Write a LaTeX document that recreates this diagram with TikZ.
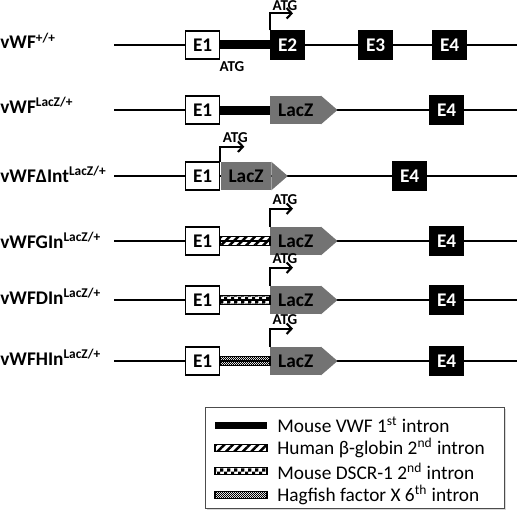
\documentclass[tikz,border=0pt]{standalone}
\usepackage{fontspec}
\setmainfont{Carlito}
\usetikzlibrary{positioning,calc,arrows.meta,patterns,patterns.meta,shadows}

\definecolor{laczgray}{RGB}{115,115,115}

% superscript of the row labels
\newcommand{\allele}[1]{\textsuperscript{\fontsize{7.6}{8}\selectfont #1}}

% checker fills for the intron bars
\pgfdeclarepatternformonly{coarsechecker}{\pgfqpoint{0pt}{0pt}}{\pgfqpoint{4pt}{4pt}}{\pgfqpoint{4pt}{4pt}}{%
  \pgfpathrectangle{\pgfqpoint{0pt}{0pt}}{\pgfqpoint{2pt}{2pt}}%
  \pgfpathrectangle{\pgfqpoint{2pt}{2pt}}{\pgfqpoint{2pt}{2pt}}%
  \pgfusepath{fill}}
\pgfdeclarepatternformonly{finechecker}{\pgfqpoint{0pt}{0pt}}{\pgfqpoint{1.3pt}{1.3pt}}{\pgfqpoint{1.3pt}{1.3pt}}{%
  \pgfpathrectangle{\pgfqpoint{0pt}{0pt}}{\pgfqpoint{0.65pt}{0.65pt}}%
  \pgfpathrectangle{\pgfqpoint{0.65pt}{0.65pt}}{\pgfqpoint{0.65pt}{0.65pt}}%
  \pgfusepath{fill}}

\tikzset{
  gene/.style={line width=1.1pt},
  exonwhite/.style={draw, line width=0.8pt, fill=white, minimum width=19.3pt,
    minimum height=15.9pt, inner sep=0pt, font=\fontsize{11}{12}\selectfont\bfseries},
  exonblack/.style={exonwhite, fill=black, text=white},
  lacz/.style={fill=laczgray, minimum width=28.9pt, minimum height=15.9pt, inner sep=0pt,
    font=\fontsize{11}{12}\selectfont\bfseries},
  atg/.style={inner sep=0pt, font=\fontsize{8.6}{9}\selectfont\bfseries},
  atgarrow/.style={line width=1.2pt, -{Straight Barb[length=2.8pt,width=6pt]}},
  rowlabel/.style={anchor=base west, inner sep=0pt, font=\fontsize{11}{12}\selectfont\bfseries},
  intron/.style={draw, line width=0.6pt},
  hatched/.style={intron, pattern={Lines[angle=45,distance=3.4pt,line width=1.4pt]}},
  legendtext/.style={anchor=west, inner sep=0pt, font=\fontsize{11}{12}\selectfont},
}

\begin{document}
\begin{tikzpicture}[x=0.02cm, y=-0.02cm]
  \useasboundingbox (0,0) rectangle (520,517);

  % gene backbones
  \foreach \y/\n in {45/1,110/2,176/3,241/4,300/5,361/6} {
    \coordinate (s\n) at (114,\y);
    \coordinate (f\n) at (517,\y);
    \draw[gene] (s\n) -- (f\n);
  }

  % row labels
  \node[rowlabel] (lab1) at (0,49) {vWF\allele{+/+}};
  \node[rowlabel] (lab2) at (0,113) {vWF\allele{LacZ/+}};
  \node[rowlabel] (lab3) at (0,182) {vWFΔInt\allele{LacZ/+}};
  \node[rowlabel] (lab4) at (0,248) {vWFGIn\allele{LacZ/+}};
  \node[rowlabel] (lab5) at (0,304) {vWFDIn\allele{LacZ/+}};
  \node[rowlabel] (lab6) at (0,365) {vWFHIn\allele{LacZ/+}};

  % vWF +/+
  \node[exonwhite, anchor=west] (e1a) at (185,45) {E1};
  \node[exonblack, anchor=west] (e2a) at (270,45) {E2};
  \node[exonblack, anchor=west] (e3a) at (358,45) {E3};
  \node[exonblack, anchor=west] (e4a) at (432,45) {E4};
  \fill ($(e1a.east)+(0,-4.5)$) rectangle ($(e2a.west)+(0,4.5)$);
  \coordinate (t1) at ($(e2a.north west)+(23,-17)$);
  \coordinate (k1) at (e2a.north west |- t1);
  \draw[atgarrow] (e2a.north west) |- (t1);
  \node[atg, above right=1.2pt and 1.3pt of k1] (atg1) {ATG};
  \node[atg] (atg1b) at (232,67) {ATG};

  % vWF LacZ/+
  \node[exonwhite, anchor=west] (e1b) at (185,110) {E1};
  \node[lacz, anchor=west] (lz2) at (270,110) {LacZ};
  \fill[laczgray] ($(lz2.north east)+(-0.5,0)$) -- ($(lz2.east)+(16,0)$) -- ($(lz2.south east)+(-0.5,0)$) -- cycle;
  \node[exonblack, anchor=west] (e4b) at (429,110) {E4};
  \fill ($(e1b.east)+(0,-4.5)$) rectangle ($(lz2.west)+(0,4.5)$);

  % vWF dInt LacZ/+
  \node[exonwhite, anchor=west] (e1c) at (185,176) {E1};
  \node[lacz, right=0pt of e1c] (lz3) {LacZ};
  \fill[laczgray] ($(lz3.north east)+(-0.5,0)$) -- ($(lz3.east)+(16,0)$) -- ($(lz3.south east)+(-0.5,0)$) -- cycle;
  \node[exonblack, anchor=west] (e4c) at (392,176) {E4};
  \coordinate (t3) at ($(lz3.north west)+(24,-15)$);
  \coordinate (k3) at (lz3.north west |- t3);
  \draw[atgarrow] (lz3.north west) |- (t3);
  \node[atg, above right=2pt and 1.3pt of k3] (atg3) {ATG};

  % vWF GIn LacZ/+
  \node[exonwhite, anchor=west] (e1d) at (185,241) {E1};
  \node[lacz, anchor=west] (lz4) at (270,241) {LacZ};
  \fill[laczgray] ($(lz4.north east)+(-0.5,0)$) -- ($(lz4.east)+(16,0)$) -- ($(lz4.south east)+(-0.5,0)$) -- cycle;
  \node[exonblack, anchor=west] (e4d) at (429,241) {E4};
  \path[hatched] ($(e1d.east)+(0,-4.5)$) rectangle ($(lz4.west)+(0,4.5)$);
  \coordinate (t4) at ($(lz4.north west)+(23,-18)$);
  \coordinate (k4) at (lz4.north west |- t4);
  \draw[atgarrow] (lz4.north west) |- (t4);
  \node[atg, above right=2pt and 1.3pt of k4] (atg4) {ATG};

  % vWF DIn LacZ/+
  \node[exonwhite, anchor=west] (e1e) at (185,300) {E1};
  \node[lacz, anchor=west] (lz5) at (270,300) {LacZ};
  \fill[laczgray] ($(lz5.north east)+(-0.5,0)$) -- ($(lz5.east)+(16,0)$) -- ($(lz5.south east)+(-0.5,0)$) -- cycle;
  \node[exonblack, anchor=west] (e4e) at (429,300) {E4};
  \path[intron, pattern=coarsechecker] ($(e1e.east)+(0,-4.5)$) rectangle ($(lz5.west)+(0,4.5)$);
  \coordinate (t5) at ($(lz5.north west)+(23,-18)$);
  \coordinate (k5) at (lz5.north west |- t5);
  \draw[atgarrow] (lz5.north west) |- (t5);
  \node[atg, above right=2pt and 1.3pt of k5] (atg5) {ATG};

  % vWF HIn LacZ/+
  \node[exonwhite, anchor=west] (e1f) at (185,361) {E1};
  \node[lacz, anchor=west] (lz6) at (270,361) {LacZ};
  \fill[laczgray] ($(lz6.north east)+(-0.5,0)$) -- ($(lz6.east)+(16,0)$) -- ($(lz6.south east)+(-0.5,0)$) -- cycle;
  \node[exonblack, anchor=west] (e4f) at (429,361) {E4};
  \path[intron, pattern=finechecker] ($(e1f.east)+(0,-4.5)$) rectangle ($(lz6.west)+(0,4.5)$);
  \coordinate (t6) at ($(lz6.north west)+(23,-18)$);
  \coordinate (k6) at (lz6.north west |- t6);
  \draw[atgarrow] (lz6.north west) |- (t6);
  \node[atg, above right=2pt and 1.3pt of k6] (atg6) {ATG};

  % legend
  \node[draw=black!70, line width=0.8pt, fill=white, minimum width=170pt, minimum height=57.3pt,
    anchor=north west, drop shadow={shadow xshift=1pt, shadow yshift=-1pt, opacity=0.3}] (legend) at (205,407) {};
  \fill (215,421.5) rectangle (267,428.5);
  \path[hatched] (215,444.5) rectangle (267,451.5);
  \path[intron, pattern=coarsechecker] (215,467.5) rectangle (267,474.5);
  \path[intron, pattern=finechecker] (215,491.5) rectangle (267,498.5);
  \node[legendtext] (leg1) at (277,425) {Mouse VWF 1\textsuperscript{st} intron};
  \node[legendtext] (leg2) at (277,448) {Human β-globin 2\textsuperscript{nd} intron};
  \node[legendtext] (leg3) at (277,471) {Mouse DSCR-1 2\textsuperscript{nd} intron};
  \node[legendtext] (leg4) at (277,495) {Hagfish factor X 6\textsuperscript{th} intron};
\end{tikzpicture}
\end{document}
